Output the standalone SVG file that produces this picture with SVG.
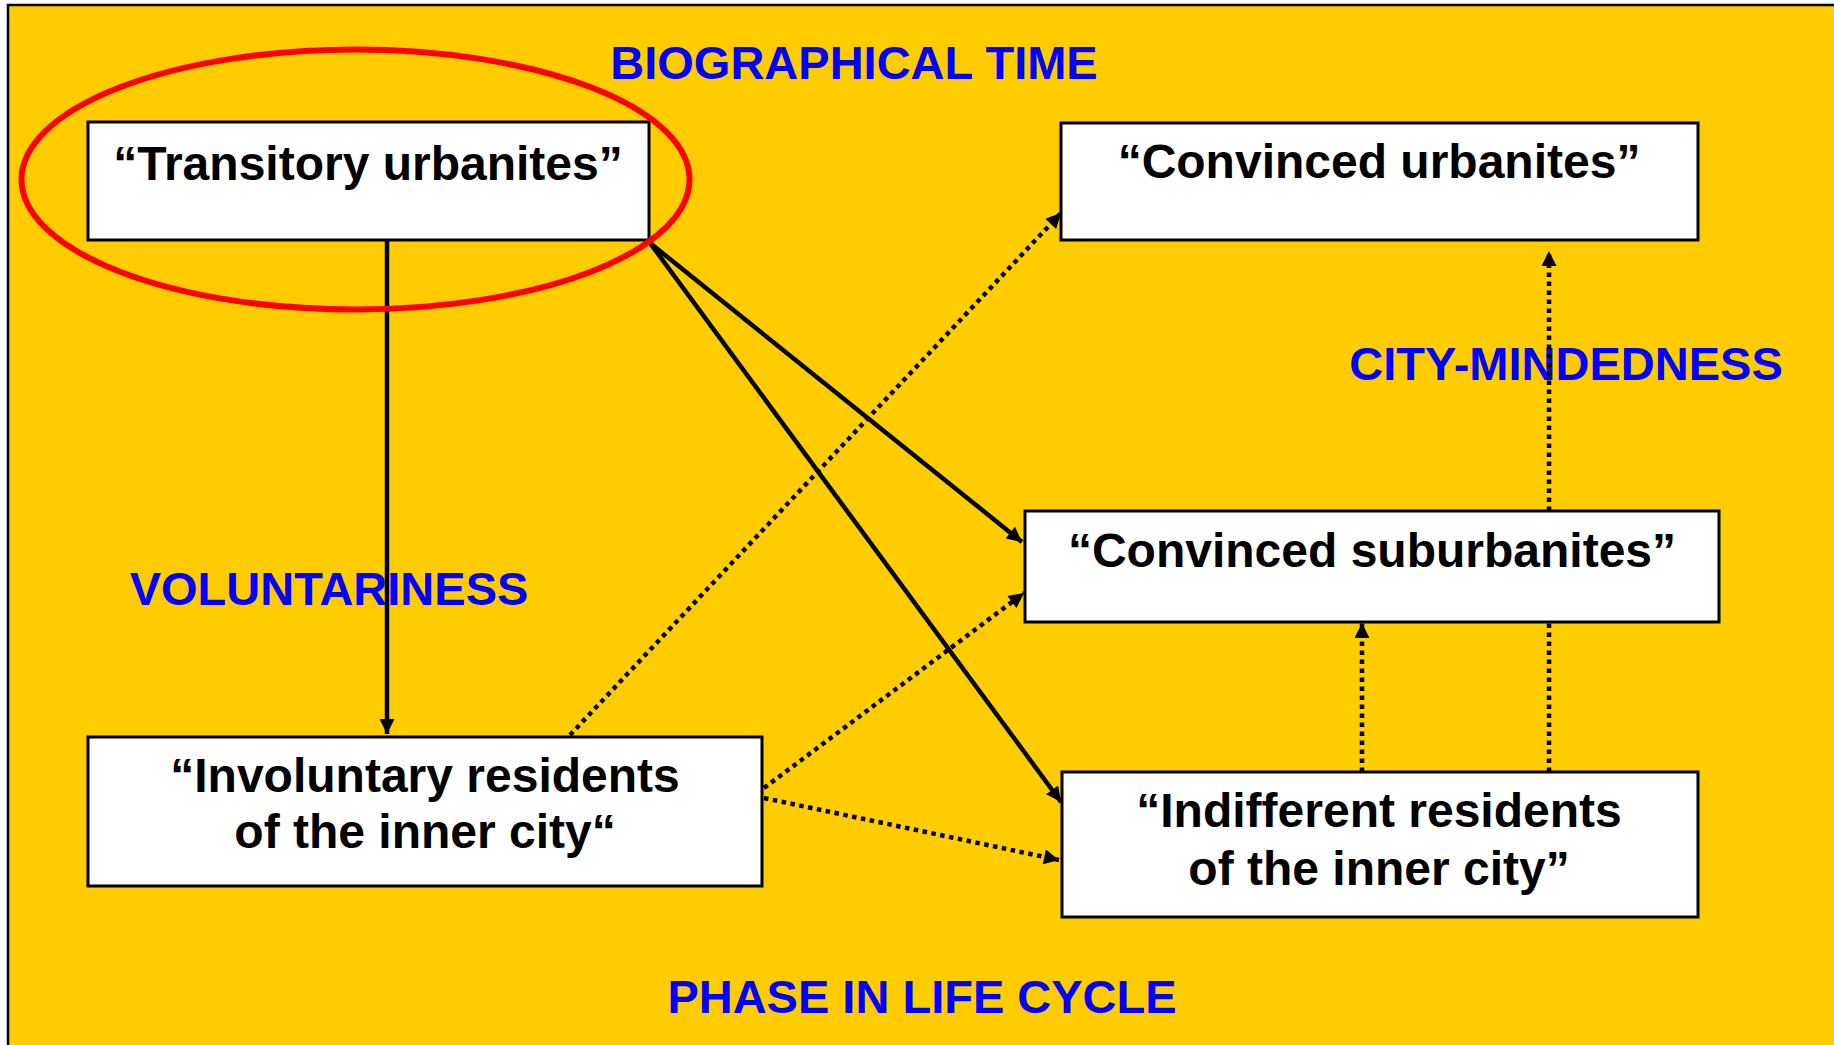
<svg xmlns="http://www.w3.org/2000/svg" width="1834" height="1045" viewBox="0 0 1834 1045">
<defs>
<style>
.node{fill:#fff;stroke:#000;stroke-width:3}
.nt{font-family:"Liberation Sans",Arial,sans-serif;font-weight:bold;font-size:48px;fill:#000;text-anchor:middle}
.lbl{font-family:"Liberation Sans",Arial,sans-serif;font-weight:bold;font-size:47px;fill:#0000FF;text-anchor:middle}
.solid{stroke:#000;stroke-width:4.5;fill:none;marker-end:url(#ah)}
.dot{stroke:#000;stroke-width:4.5;fill:none;stroke-dasharray:4.5 4.5;marker-end:url(#ah)}
</style>
<marker id="ah" viewBox="0 0 10 10" refX="10" refY="5" markerUnits="userSpaceOnUse" markerWidth="17" markerHeight="15" orient="auto">
<path d="M0,0 L10,5 L0,10 z" fill="#000"/>
</marker>
</defs>
<rect x="0" y="0" width="1834" height="1045" fill="#fff"/>
<rect x="8" y="5" width="1840" height="1060" fill="#FFCC00" stroke="#000" stroke-width="2.5"/>
<g id="labels">
<text class="lbl" x="854" y="79">BIOGRAPHICAL TIME</text>
<text class="lbl" x="329" y="605">VOLUNTARINESS</text>
<text class="lbl" x="1566" y="380">CITY-MINDEDNESS</text>
<text class="lbl" x="922" y="1013">PHASE IN LIFE CYCLE</text>
</g>
<g id="connectors">
<line class="solid" x1="387" y1="240" x2="387" y2="734"/>
<line class="solid" x1="650" y1="243" x2="1022" y2="542"/>
<line class="solid" x1="650" y1="243" x2="1061" y2="802"/>
<line class="dot" x1="570" y1="735" x2="1061" y2="213"/>
<line class="dot" x1="764" y1="788" x2="1024" y2="593"/>
<line class="dot" x1="764" y1="798" x2="1059" y2="860"/>
<line class="dot" x1="1362" y1="772" x2="1362" y2="623"/>
<line class="dot" x1="1549" y1="772" x2="1549" y2="251"/>
</g>
<g id="n-transitory">
<rect class="node" x="88" y="122" width="561" height="118"/>
<text class="nt" x="368" y="180">“Transitory urbanites”</text>
</g>
<g id="n-conv-urban">
<rect class="node" x="1061" y="123" width="637" height="117"/>
<text class="nt" x="1379" y="178">“Convinced urbanites”</text>
</g>
<g id="n-conv-suburban">
<rect class="node" x="1025" y="511" width="694" height="111"/>
<text class="nt" x="1372" y="567">“Convinced suburbanites”</text>
</g>
<g id="n-involuntary">
<rect class="node" x="88" y="737" width="674" height="149"/>
<text class="nt" x="425" y="792">“Involuntary residents</text>
<text class="nt" x="425" y="848">of the inner city“</text>
</g>
<g id="n-indifferent">
<rect class="node" x="1062" y="772" width="636" height="145"/>
<text class="nt" x="1379" y="827">“Indifferent residents</text>
<text class="nt" x="1379" y="885">of the inner city”</text>
</g>
<g id="highlight">
<ellipse cx="355.5" cy="179.5" rx="334" ry="130" fill="none" stroke="#FF0000" stroke-width="6"/>
</g>
</svg>
